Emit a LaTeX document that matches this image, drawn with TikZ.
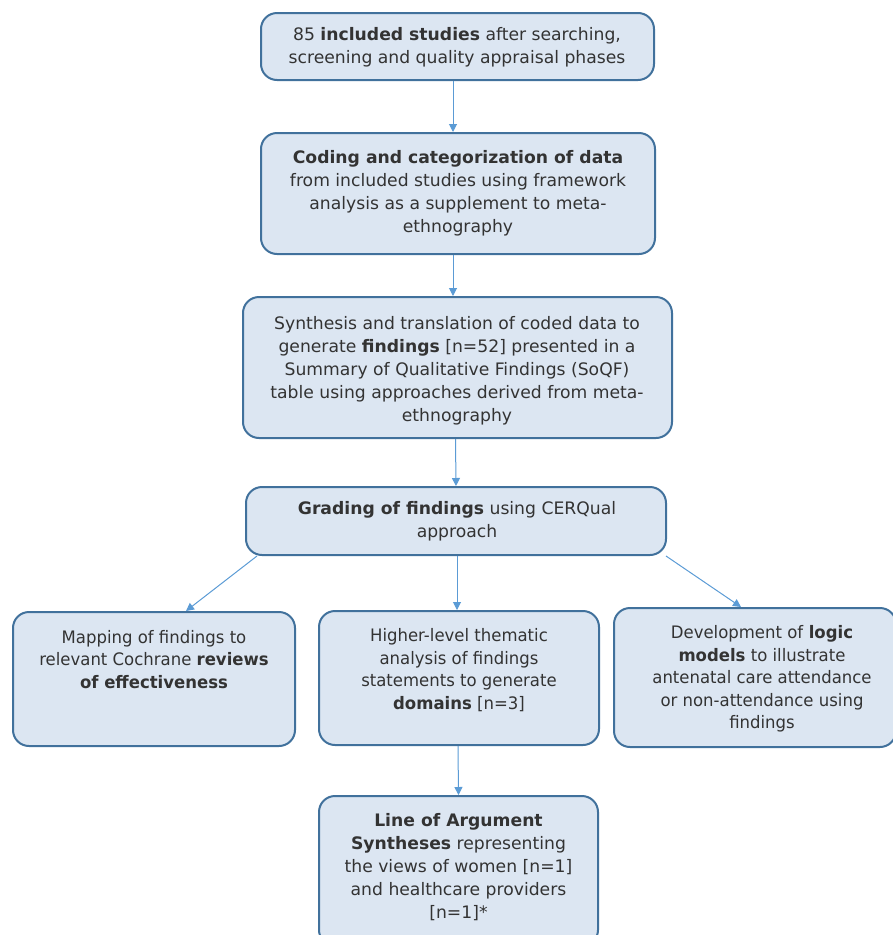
\documentclass[tikz,border=0pt]{standalone}
\usepackage{fontspec}
\setmainfont{DejaVu Sans}
\newfontfamily\condfont[FakeStretch=0.96]{DejaVu Sans}
\usetikzlibrary{arrows.meta}
\definecolor{boxfill}{HTML}{DCE6F2}
\definecolor{boxline}{HTML}{41719C}
\definecolor{arrcol}{HTML}{5B9BD5}
\definecolor{txt}{HTML}{333333}
\begin{document}
\begin{tikzpicture}[x=1pt,y=-1pt,
 box/.style={draw=boxline, fill=boxfill, line width=2pt, rounded corners=16pt, inner sep=0pt},
 txtnode/.style={text=txt, align=center, inner sep=0pt, font=\fontsize{17.2}{23}\selectfont},
 condtxt/.style={text=txt, align=center, inner sep=0pt, font=\condfont\fontsize{17.2}{22.5}\selectfont},
 arr/.style={draw=arrcol, line width=1pt, -{Triangle[length=8pt,width=8pt]}}]
\useasboundingbox (0,0) rectangle (893,935);
\clip (0,0) rectangle (893,935);
% boxes
\node[box, minimum width=393, minimum height=67] (b1) at (457.5,46.5) {};
\node[box, minimum width=394, minimum height=121] (b2) at (458,193.5) {};
\node[box, minimum width=429, minimum height=141] (b3) at (457.5,367.5) {};
\node[box, minimum width=420, minimum height=68] (b4) at (456,521) {};
\node[box, minimum width=282, minimum height=134] (b5) at (154,679) {};
\node[box, minimum width=280, minimum height=134] (b6) at (459,678) {};
\node[box, minimum width=282, minimum height=139] (b7) at (755,677.5) {};
\node[box, minimum width=279, minimum height=150] (b8) at (458.5,871) {};
% texts
\node[txtnode] (t1) at (457,47) {85 \textbf{included studies} after searching,\\screening and quality appraisal phases};
\node[txtnode] (t2) at (458,193) {\textbf{Coding and categorization of data}\\from included studies using framework\\analysis as a supplement to meta-\\ethnography};
\node[txtnode] (t3) at (457,371) {Synthesis and translation of coded data to\\generate \textbf{findings} [n=52] presented in a\\Summary of Qualitative Findings (SoQF)\\table using approaches derived from meta-\\ethnography};
\node[txtnode] (t4) at (457,521) {\textbf{Grading of findings} using CERQual\\approach};
\node[condtxt] (t5) at (154,659.5) {Mapping of findings to\\relevant Cochrane \textbf{reviews}\\\textbf{of effectiveness}};
\node[condtxt] (t6) at (459,670) {Higher-level thematic\\analysis of findings\\statements to generate\\\textbf{domains} [n=3]};
\node[condtxt] (t7) at (762,679) {Development of \textbf{logic}\\\textbf{models} to illustrate\\antenatal care attendance\\or non-attendance using\\findings};
\node[txtnode] (t8) at (458.5,867) {\textbf{Line of Argument}\\\textbf{Syntheses} representing\\the views of women [n=1]\\and healthcare providers\\[0pt][n=1]*};
% arrows
\draw[arr] ([xshift=-4.5pt]b1.south) -- ([xshift=-5pt]b2.north);
\draw[arr] ([xshift=-5pt]b2.south) -- ([xshift=-4.5pt]b3.north);
\draw[arr] ([xshift=-2pt]b3.south) -- (b4.north);
\draw[arr] ([xshift=12pt]b4.south west) -- ([xshift=32pt]b5.north);
\draw[arr] ([xshift=1pt]b4.south) -- ([xshift=-2pt]b6.north);
\draw[arr] ([xshift=-1pt]b4.south east) -- ([xshift=-14pt]b7.north);
\draw[arr] ([xshift=-1pt]b6.south) -- (b8.north);
\end{tikzpicture}
\end{document}
